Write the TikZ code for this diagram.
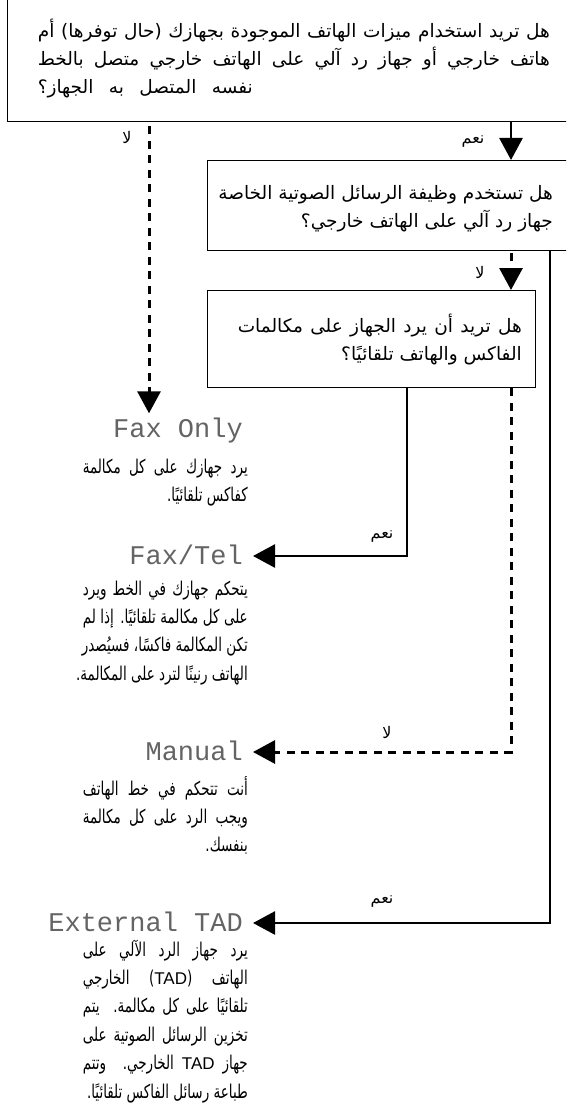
\documentclass[tikz,border=0pt]{standalone}
\usepackage{fontspec}
\usetikzlibrary{arrows.meta}
\TeXXeTstate=1
\newfontfamily\arabicfont[Script=Arabic]{DejaVu Sans}
\newfontfamily\arabicdesc[Script=Arabic,FakeStretch=0.71]{DejaVu Sans}
\newfontfamily\lcdfont{Liberation Mono}
\newfontfamily\latinfont{Liberation Sans}
% a line stretched to a given width (justified), or right-aligned at natural width
\newcommand\jline[2]{\hbox to #1{\hskip 0pt minus 1fil #2}}
\newcommand\rline[2]{\hbox to #1{\hss #2}}
\newcommand\qsize{\arabicfont\fontsize{18.5}{28}\selectfont}
\newcommand\dsize{\arabicdesc\fontsize{19}{28.4}\selectfont}
\definecolor{modegray}{RGB}{100,100,100}
\begin{document}
\begin{tikzpicture}[x=1pt,y=-1pt,
  qbox/.style={draw, line width=1.3pt, inner sep=0pt, anchor=north west},
  blk/.style={anchor=base east, inner sep=0pt},
  mode/.style={font=\lcdfont\fontsize{27}{27}\selectfont, text=modegray, anchor=east, inner sep=0pt, text height=17pt, text depth=0pt},
  lbl/.style={font=\arabicfont\fontsize{16}{16}\selectfont, inner sep=0pt},
  yesline/.style={line width=2.6pt, -{Triangle[width=23pt,length=22pt]}},
  noline/.style={line width=3pt, dash pattern=on 8pt off 6.5pt, -{Triangle[width=23pt,length=22pt]}}
]
\useasboundingbox (0,0) rectangle (566,1113);
\clip (0,0) rectangle (566,1113);

% question boxes
\node[qbox, minimum width=620pt, minimum height=130pt] (q1) at (7,-9) {};
\node[qbox, minimum width=420pt, minimum height=90pt] (q2) at (207,160) {};
\node[qbox, minimum width=328pt, minimum height=97pt] (q3) at (207,290) {};

\node[blk] (t1) at (550,38) {\vtop{\qsize
\jline{512pt}{\beginR هل تريد استخدام ميزات الهاتف الموجودة بجهازك (حال توفرها) أم\endR}
\jline{512pt}{\beginR هاتف خارجي أو جهاز رد آلي على الهاتف خارجي متصل بالخط\endR}
\jline{215pt}{\beginR نفسه المتصل به الجهاز؟\endR}}};
\node[blk] (t2) at (553,199) {\vtop{\qsize
\jline{333pt}{\beginR هل تستخدم وظيفة الرسائل الصوتية الخاصة\endR}
\rline{333pt}{\beginR جهاز رد آلي على الهاتف خارجي؟\endR}}};
\node[blk] (t3) at (522,332) {\vtop{\qsize
\jline{284pt}{\beginR هل تريد أن يرد الجهاز على مكالمات\endR}
\rline{284pt}{\beginR الفاكس والهاتف تلقائيًا؟\endR}}};

% modes
\node[mode] (fonly) at (243,429) {Fax Only};
\node[mode] (ftel) at (243,556) {Fax/Tel};
\node[mode] (manual) at (243,752) {Manual};
\node[mode] (tad) at (243,923) {External TAD};

\node[blk] (d1) at (248,473) {\vtop{\dsize
\jline{165pt}{\beginR يرد جهازك على كل مكالمة\endR}
\rline{165pt}{\beginR كفاكس تلقائيًا.\endR}}};
\node[blk] (d2) at (248,595) {\vtop{\dsize
\jline{165pt}{\beginR يتحكم جهازك في الخط ويرد\endR}
\jline{165pt}{\beginR على كل مكالمة تلقائيًا. إذا لم\endR}
\jline{165pt}{\beginR تكن المكالمة فاكسًا، فسيُصدر\endR}
\rline{165pt}{\beginR الهاتف رنينًا لترد على المكالمة.\endR}}};
\node[blk] (d3) at (248,795) {\vtop{\dsize
\jline{165pt}{\beginR أنت تتحكم في خط الهاتف\endR}
\jline{165pt}{\beginR ويجب الرد على كل مكالمة\endR}
\rline{165pt}{\beginR بنفسك.\endR}}};
\node[blk] (d4) at (248,956) {\vtop{\dsize
\jline{165pt}{\beginR يرد جهاز الرد الآلي على\endR}
\jline{165pt}{\beginR الهاتف (\beginL{\latinfont\fontsize{17}{20}\selectfont TAD}\endL) الخارجي\endR}
\jline{165pt}{\beginR تلقائيًا على كل مكالمة. يتم\endR}
\jline{165pt}{\beginR تخزين الرسائل الصوتية على\endR}
\jline{165pt}{\beginR جهاز \beginL{\latinfont\fontsize{17}{20}\selectfont TAD}\endL{} الخارجي. وتتم\endR}
\rline{165pt}{\beginR طباعة رسائل الفاكس تلقائيًا.\endR}}};

% x positions of the vertical connectors
\coordinate (xl) at (149,0);
\coordinate (xa) at (511,0);
\coordinate (xs) at (550,0);
\coordinate (xt) at (407,0);

% connectors
\draw[noline, shorten <=4pt, shorten >=7pt] (xl |- q1.south) -- (xl |- fonly.north);
\draw[yesline] (xa |- q1.south) -- (xa |- q2.north);
\draw[noline, shorten <=2pt] (xa |- q2.south) -- (xa |- q3.north);
\draw[yesline, shorten >=10pt] (xt |- q3.south) |- (ftel.east);
\draw[noline, shorten >=10pt] (xa |- q3.south) |- (manual.east);
\draw[yesline, shorten >=10pt] (xs |- q2.south) |- (tad.east);

% labels
\node[lbl] (l1) at (127,137) {\beginR لا\endR};
\node[lbl] (l2) at (473,142) {\beginR نعم\endR};
\node[lbl] (l3) at (480,272) {\beginR لا\endR};
\node[lbl] (l4) at (382,537) {\beginR نعم\endR};
\node[lbl] (l5) at (387,732) {\beginR لا\endR};
\node[lbl] (l6) at (382,902) {\beginR نعم\endR};
\end{tikzpicture}
\end{document}
